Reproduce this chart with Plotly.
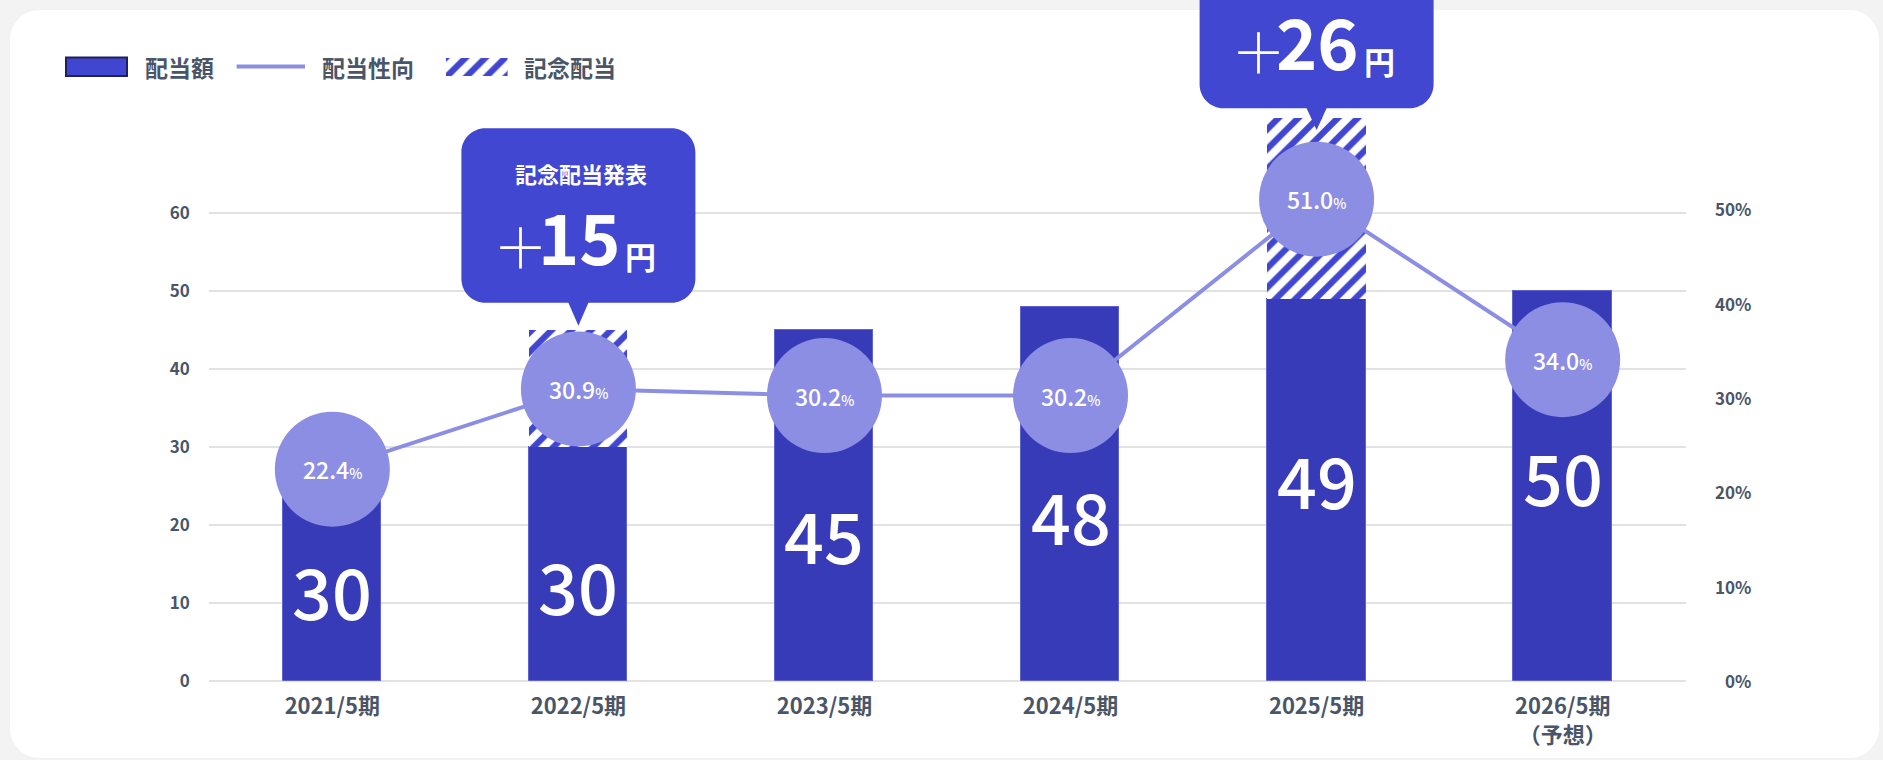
import plotly.graph_objects as go

# ---- data -------------------------------------------------------------
categories = ["2021/5期", "2022/5期", "2023/5期", "2024/5期", "2025/5期", "2026/5期"]
tick_text = ["2021/5期", "2022/5期", "2023/5期", "2024/5期", "2025/5期", "2026/5期<br>（予想）"]
dividend = [30, 30, 45, 48, 49, 50]            # 配当額 (円)
commemorative = [0, 15, 0, 0, 26, 0]           # 記念配当 (円)
payout_ratio = [22.4, 30.9, 30.2, 30.2, 51.0, 34.0]  # 配当性向 (%)
left_ticks = [0, 10, 20, 30, 40, 50, 60]
right_ticks = [0, 10, 20, 30, 40, 50]

# height (in 円 units) where each bar's value label sits
value_label_y = [11.7, 12.3, 18.9, 21.4, 25.9, 26.3]

# callouts: (category index, heading, box bottom px, pointer tip px)
callouts = [(1, "記念配当発表", 302.7, 325.7), (4, "", 108.3, 130.0)]

# ---- style ------------------------------------------------------------
W, H = 1883, 760
FONT = "Noto Sans CJK JP"
BAR = "#383bb8"
BAR_EDGE = "#5f62d2"
HATCH = "#4046d0"
BUBBLE = "#8b8ee3"
CALLOUT = "#4147d1"
TEXT = "#4a5568"
GRID = "#e2e2e2"

# plot area in pixels
PX0, PX1 = 209.3, 1685.7
PY_BOTTOM, PY_TOP = 680.7, 118.0
Y_MAX = 72.25
Y2_MAX = 59.6


def fx(px):
    return px / W


def fy(py):
    return 1 - py / H


def bar_center(i):
    return PX0 + (i + 0.5) * (PX1 - PX0) / len(categories)


def rounded_path(x0, y0, x1, y1, r, pointer=None):
    """SVG path (paper coords) of a rounded box, optional pointer at bottom."""
    k = 0.5523 * r
    pts = [f"M {fx(x0 + r)} {fy(y0)}", f"L {fx(x1 - r)} {fy(y0)}",
           f"C {fx(x1 - r + k)} {fy(y0)} {fx(x1)} {fy(y0 + r - k)} {fx(x1)} {fy(y0 + r)}",
           f"L {fx(x1)} {fy(y1 - r)}",
           f"C {fx(x1)} {fy(y1 - r + k)} {fx(x1 - r + k)} {fy(y1)} {fx(x1 - r)} {fy(y1)}"]
    if pointer is not None:
        cx, half, tip = pointer
        pts += [f"L {fx(cx + half)} {fy(y1)}", f"L {fx(cx)} {fy(tip)}",
                f"L {fx(cx - half)} {fy(y1)}"]
    pts += [f"L {fx(x0 + r)} {fy(y1)}",
            f"C {fx(x0 + r - k)} {fy(y1)} {fx(x0)} {fy(y1 - r + k)} {fx(x0)} {fy(y1 - r)}",
            f"L {fx(x0)} {fy(y0 + r)}",
            f"C {fx(x0)} {fy(y0 + r - k)} {fx(x0 + r - k)} {fy(y0)} {fx(x0 + r)} {fy(y0)}", "Z"]
    return " ".join(pts)


hatch = dict(shape="/", fgcolor=HATCH, bgcolor="white", fgopacity=1,
             size=14, solidity=0.45, fillmode="overlay")

fig = go.Figure()

# dividend bars
fig.add_trace(go.Bar(
    x=categories, y=dividend, name="配当額", width=0.4,
    marker=dict(color=BAR, line=dict(color=BAR_EDGE, width=1)),
    hoverinfo="skip", xaxis="x", yaxis="y"))

# commemorative dividend, hatched, stacked on top
fig.add_trace(go.Bar(
    x=categories, y=commemorative, name="記念配当", width=0.4,
    marker=dict(color="white", line=dict(width=0), pattern=hatch),
    hoverinfo="skip", xaxis="x", yaxis="y"))

# payout ratio line with bubbles
fig.add_trace(go.Scatter(
    x=categories, y=payout_ratio, name="配当性向", yaxis="y2", xaxis="x",
    mode="lines+markers", line=dict(color=BUBBLE, width=4),
    marker=dict(size=115, color=BUBBLE, line=dict(width=0)),
    cliponaxis=False, hoverinfo="skip"))

# legend hatch swatch (a one-bar mini plot so the pattern matches)
fig.add_trace(go.Bar(
    x=[0], y=[1], width=1, xaxis="x3", yaxis="y3", showlegend=False,
    marker=dict(color="white", line=dict(width=0), pattern=hatch),
    hoverinfo="skip"))

shapes = []
annotations = []

# white card
shapes.append(dict(type="path", xref="paper", yref="paper", layer="below",
                   path=rounded_path(10, 10, 1879, 758, 30),
                   fillcolor="white", line=dict(width=0)))

# value labels inside bars
for i, v in enumerate(dividend):
    annotations.append(dict(
        x=categories[i], y=value_label_y[i], xref="x", yref="y",
        text=str(v), showarrow=False, xanchor="center", yanchor="middle",
        font=dict(family=FONT, size=70, color="white", weight=500)))

# payout ratio labels inside bubbles
for i, v in enumerate(payout_ratio):
    annotations.append(dict(
        x=categories[i], y=v, xref="x", yref="y2",
        text=f"{v:.1f}<span style='font-size:14px'>%</span>",
        showarrow=False, xanchor="center", yanchor="middle",
        font=dict(family=FONT, size=23, color="white", weight=500)))

# right axis labels, right-aligned
for t in right_ticks:
    annotations.append(dict(
        x=fx(1753), y=t, xref="paper", yref="y2", text=f"{t}%",
        showarrow=False, xanchor="right", yanchor="middle",
        font=dict(family=FONT, size=17, color=TEXT, weight=700)))

# callout bubbles
for idx, heading, box_bottom, tip in callouts:
    cx = bar_center(idx)
    shapes.append(dict(type="path", xref="paper", yref="paper", layer="above",
                       path=rounded_path(cx - 117, box_bottom - 174.4, cx + 117, box_bottom, 24,
                                         pointer=(cx, 10, tip)),
                       fillcolor=CALLOUT, line=dict(width=0)))
    if heading:
        annotations.append(dict(
            x=fx(cx + 3), y=fy(box_bottom - 130), xref="paper", yref="paper",
            text=heading, showarrow=False, xanchor="center", yanchor="middle",
            font=dict(family=FONT, size=22, color="white", weight=700)))
    annotations.append(dict(
        x=fx(cx - 58), y=fy(box_bottom - 59), xref="paper", yref="paper",
        text="＋", showarrow=False, xanchor="center", yanchor="middle",
        font=dict(family=FONT, size=55, color="white", weight=300)))
    annotations.append(dict(
        x=fx(cx + 1), y=fy(box_bottom - 68.5), xref="paper", yref="paper",
        text=str(commemorative[idx]), showarrow=False, xanchor="center", yanchor="middle",
        font=dict(family=FONT, size=70, color="white", weight=700)))
    annotations.append(dict(
        x=fx(cx + 62.5), y=fy(box_bottom - 47.5), xref="paper", yref="paper",
        text="円", showarrow=False, xanchor="center", yanchor="middle",
        font=dict(family=FONT, size=31, color="white", weight=700)))

# legend
shapes.append(dict(type="rect", xref="paper", yref="paper", layer="above",
                   x0=fx(66), x1=fx(127), y0=fy(76), y1=fy(57.5),
                   fillcolor=HATCH, line=dict(color="#1f2060", width=2)))
shapes.append(dict(type="line", xref="paper", yref="paper", layer="above",
                   x0=fx(236.6), x1=fx(305), y0=fy(66.5), y1=fy(66.5),
                   line=dict(color=BUBBLE, width=4)))
for label, xpos in [("配当額", 142.5), ("配当性向", 319.5), ("記念配当", 522)]:
    annotations.append(dict(
        x=fx(xpos), y=fy(67), xref="paper", yref="paper", text=label,
        showarrow=False, xanchor="left", yanchor="middle",
        font=dict(family=FONT, size=23, color=TEXT, weight=700)))

fig.update_layout(
    width=W, height=H, template="none",
    margin=dict(l=0, r=0, t=0, b=0),
    paper_bgcolor="#f3f3f3", plot_bgcolor="rgba(0,0,0,0)",
    barmode="stack", bargap=0, showlegend=False,
    font=dict(family=FONT, color=TEXT),
    xaxis=dict(domain=[fx(PX0), fx(PX1)], type="category", range=[-0.5, 5.5],
               tickvals=categories, ticktext=tick_text, showgrid=False,
               zeroline=False, showline=False, ticks="outside", ticklen=6,
               tickcolor="rgba(0,0,0,0)", automargin=False, anchor="y",
               tickfont=dict(family=FONT, size=22, color=TEXT, weight=700)),
    yaxis=dict(domain=[fy(PY_BOTTOM), fy(PY_TOP)], range=[0, Y_MAX],
               tickvals=left_ticks, showgrid=True, gridcolor=GRID, gridwidth=1.5,
               zeroline=True, zerolinecolor=GRID, zerolinewidth=1.5,
               showline=False, ticks="outside", ticklen=15,
               tickcolor="rgba(0,0,0,0)", automargin=False, anchor="x",
               tickfont=dict(family=FONT, size=17, color=TEXT, weight=700)),
    yaxis2=dict(overlaying="y", side="right", range=[0, Y2_MAX], showgrid=False,
                zeroline=False, showticklabels=False, showline=False,
                automargin=False, anchor="x"),
    xaxis3=dict(domain=[fx(446), fx(507.6)], range=[-0.5, 0.5], visible=False,
                anchor="y3", fixedrange=True),
    yaxis3=dict(domain=[fy(76), fy(57.5)], range=[0, 1], visible=False,
                anchor="x3", fixedrange=True),
    shapes=shapes, annotations=annotations,
)

fig.write_html("out.html")
